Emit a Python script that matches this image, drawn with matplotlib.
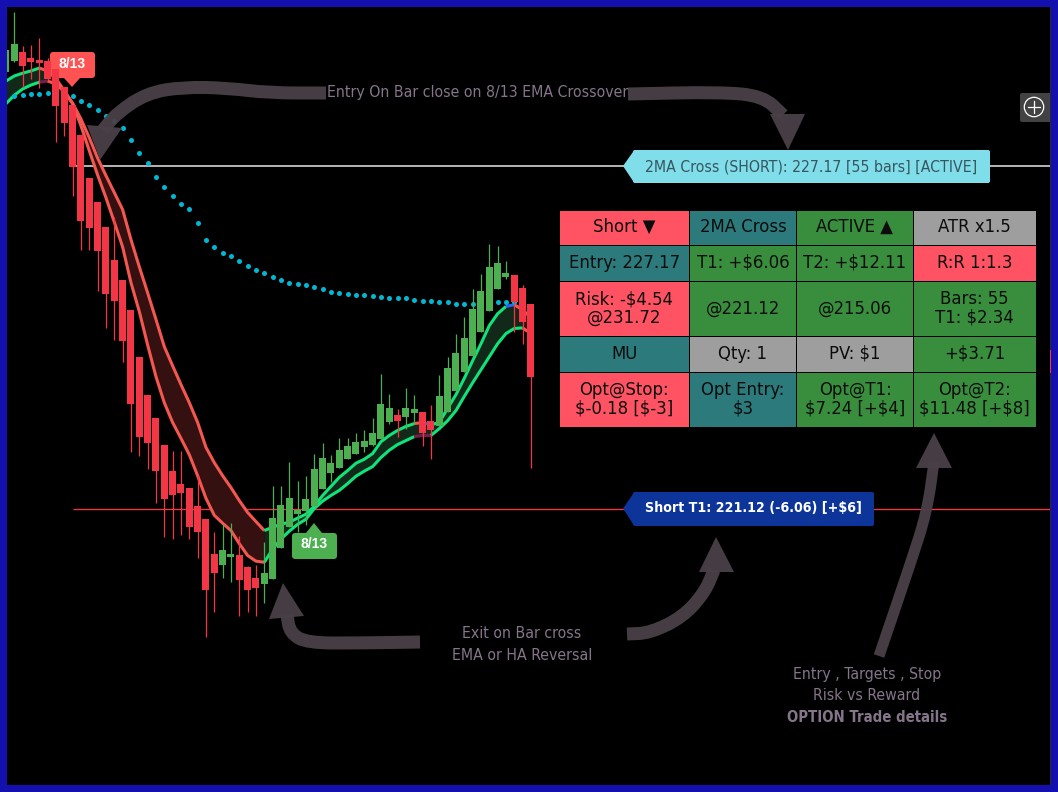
import numpy as np
import matplotlib
matplotlib.use("Agg")
import matplotlib.pyplot as plt
from matplotlib.patches import Rectangle, FancyBboxPatch, Polygon, PathPatch, Circle
from matplotlib.path import Path

W, H = 1058, 792
ENTRY = 227.17
T1 = 221.12

# ---- data (prices), bars -1 .. 62 ----
first_bar = -1
opens = [228.83, 229.02, 229.18, 229.08, 229.04, 229.02, 228.88, 228.57, 228.25, 227.72, 226.96, 226.54, 226.10,
         225.51, 225.16, 224.63, 223.80, 223.12, 222.71, 222.25, 221.78, 221.56, 221.49, 221.16, 220.93, 220.31,
         220.13, 220.26, 220.29, 220.08, 219.89, 219.78, 219.87, 220.42, 220.79, 221.03, 221.07, 221.16, 221.47,
         221.74, 221.83, 221.99, 222.09, 222.20, 222.25, 222.34, 222.64, 222.78, 222.73, 222.80, 222.83, 222.66,
         222.57, 222.83, 223.20, 223.54, 223.82, 224.23, 224.60, 224.99, 225.21, 225.25, 225.02, 224.74]
highs = [229.22, 229.89, 229.29, 229.31, 229.43, 229.08, 228.88, 228.57, 228.25, 227.72, 226.96, 226.54, 226.10,
         226.27, 225.16, 224.63, 223.80, 223.12, 222.71, 222.25, 222.13, 222.13, 221.49, 221.72, 220.93, 220.70,
         220.84, 220.86, 220.63, 220.10, 220.13, 220.52, 221.51, 221.51, 221.95, 221.60, 221.69, 222.09, 222.27,
         222.07, 222.37, 222.36, 222.46, 222.50, 222.71, 223.50, 223.15, 222.87, 223.24, 223.12, 222.83, 222.94,
         223.47, 223.80, 224.21, 224.51, 225.00, 225.27, 225.80, 225.76, 225.50, 225.25, 225.07, 224.74]
lows = [228.83, 229.01, 228.57, 228.71, 228.55, 228.69, 227.60, 227.70, 226.64, 225.69, 225.69, 224.97, 224.31,
        224.10, 223.70, 222.11, 222.04, 221.81, 221.21, 220.61, 220.58, 220.65, 220.59, 220.24, 218.85, 219.29,
        219.89, 219.83, 219.22, 219.29, 219.22, 219.45, 219.87, 220.42, 220.79, 220.70, 220.82, 221.16, 221.47,
        221.58, 221.83, 221.99, 222.09, 222.11, 222.22, 222.34, 222.62, 222.39, 222.53, 222.62, 222.22, 221.99,
        222.57, 222.83, 223.20, 223.54, 223.82, 224.23, 224.60, 224.99, 225.18, 224.24, 224.03, 221.83]
closes = [229.22, 229.32, 228.94, 229.01, 228.99, 228.71, 228.23, 227.93, 227.15, 226.20, 226.08, 225.66, 224.91,
          224.79, 224.07, 222.97, 222.39, 222.27, 221.78, 221.28, 221.35, 221.39, 220.80, 220.70, 219.68, 219.98,
          220.38, 220.31, 219.85, 219.68, 219.71, 219.98, 220.96, 221.19, 221.30, 221.10, 221.28, 221.81, 222.02,
          221.93, 222.16, 222.22, 222.30, 222.32, 222.45, 222.96, 222.90, 222.67, 222.89, 222.87, 222.45, 222.50,
          223.10, 223.61, 223.87, 224.14, 224.65, 224.97, 225.39, 225.46, 225.28, 224.77, 224.42, 223.45]
ema_upper = [228.67, 228.76, 228.81, 228.85, 228.90, 228.85, 228.71, 228.50, 228.28, 228.00, 227.67, 227.31, 227.00,
             226.70, 226.40, 225.87, 225.39, 224.93, 224.46, 223.98, 223.64, 223.31, 222.99, 222.64, 222.20, 221.93,
             221.70, 221.49, 221.26, 221.05, 220.89, 220.73, 220.79, 220.84, 220.88, 220.95, 221.02, 221.16, 221.35,
             221.51, 221.67, 221.79, 221.92, 221.99, 222.09, 222.30, 222.41, 222.50, 222.57, 222.62, 222.64, 222.60,
             222.64, 222.89, 223.13, 223.42, 223.73, 224.03, 224.35, 224.56, 224.69, 224.72, 224.63, 224.49]
ema_lower = [228.27, 228.42, 228.53, 228.60, 228.65, 228.67, 228.62, 228.48, 228.27, 227.88, 227.44, 227.01, 226.61,
             226.18, 225.74, 225.11, 224.60, 224.01, 223.45, 222.99, 222.64, 222.36, 222.07, 221.70, 221.30, 221.00,
             220.86, 220.73, 220.50, 220.29, 220.19, 220.17, 220.40, 220.58, 220.72, 220.84, 220.93, 221.12, 221.25,
             221.35, 221.44, 221.56, 221.69, 221.78, 221.86, 222.02, 222.15, 222.25, 222.32, 222.39, 222.41, 222.41,
             222.53, 222.67, 222.85, 223.10, 223.34, 223.57, 223.80, 224.03, 224.21, 224.30, 224.31, 224.21]
# colour runs of the two EMA lines and of the band between them (first bar, last bar, state)
upper_runs = [(-1, 3, "up"), (3, 30, "down"), (30, 48, "up"), (48, 49, "down"), (49, 50, "flip"), (50, 59, "up"),
              (59, 60, "flip"), (60, 62, "down")]
lower_runs = [(-1, 3, "up"), (3, 4, "dim"), (4, 30, "down"), (30, 48, "up"), (48, 50, "dim"), (50, 61, "up"),
              (61, 62, "down")]
band_runs = [(-1, 4, "up"), (4, 30, "down"), (30, 61, "up"), (61, 62, "down")]
slow_ma_first_bar = 0
slow_ma = [228.41, 228.42, 228.44, 228.44, 228.46, 228.46, 228.44, 228.41, 228.32, 228.25, 228.16, 228.05, 227.97,
           227.84, 227.63, 227.40, 227.23, 226.98, 226.80, 226.64, 226.50, 226.41, 226.17, 225.87, 225.74, 225.64,
           225.58, 225.50, 225.41, 225.34, 225.28, 225.21, 225.16, 225.11, 225.09, 225.06, 225.04, 225.00, 224.95,
           224.93, 224.91, 224.90, 224.90, 224.88, 224.86, 224.84, 224.83, 224.83, 224.81, 224.79, 224.79, 224.76,
           224.76, 224.74, 224.74, 224.74, 224.74, 224.74, 224.76, 224.76, 224.76]

table_rows = [
    ["Short ▼", "2MA Cross", "ACTIVE ▲", "ATR x1.5"],
    ["Entry: 227.17", "T1: +$6.06", "T2: +$12.11", "R:R 1:1.3"],
    ["Risk: -$4.54\n@231.72", "@221.12", "@215.06", "Bars: 55\nT1: $2.34"],
    ["MU", "Qty: 1", "PV: $1", "+$3.71"],
    ["Opt@Stop:\n$-0.18 [$-3]", "Opt Entry:\n$3", "Opt@T1:\n$7.24 [+$4]", "Opt@T2:\n$11.48 [+$8]"],
]
RED_C, TEAL_C, GREEN_C, GREY_C = "#ff5364", "#2c7a7b", "#388e3c", "#9e9e9e"
table_colors = [
    [RED_C, TEAL_C, GREEN_C, GREY_C],
    [TEAL_C, GREEN_C, GREEN_C, RED_C],
    [RED_C, GREEN_C, GREEN_C, GREEN_C],
    [TEAL_C, GREY_C, GREY_C, GREEN_C],
    [RED_C, TEAL_C, GREEN_C, GREEN_C],
]
col_edges = [559, 689.5, 796.5, 913.5, 1036]
row_edges = [210, 245.5, 281.5, 336, 372.5, 427]

plt.rcParams["font.family"] = ["DejaVu Sans"]
plt.rcParams["font.stretch"] = "condensed"
BG = "#000000"
ARROW = "#4a4048"
MUTED = "#85758a"
UP, DOWN = "#4caf50", "#f23645"
BORDER = "#1410b0"
LINE_COLORS = {"up": "#0fe37a", "down": "#f4574f", "flip": "#2962ff", "dim": "#7a1b4f"}
BAND_COLORS = {"up": "#12291a", "down": "#351011"}

fig = plt.figure(figsize=(W / 100, H / 100), dpi=100, facecolor=BG)


def pixel_axes(z):
    a = fig.add_axes([0, 0, 1, 1], zorder=z)
    a.set_xlim(0, W)
    a.set_ylim(H, 0)
    a.axis("off")
    return a


under = pixel_axes(0)
ov = pixel_axes(2)

# price axes: bar index horizontally, price vertically
ax = fig.add_axes([0, 0, 1, 1], zorder=1)
ax.patch.set_alpha(0)
ax.axis("off")
BAR_PX, BAR0_PX = 8.333, 14.3
ENTRY_PX, T1_PX = 166.0, 508.5
PX_PER_USD = (T1_PX - ENTRY_PX) / (ENTRY - T1)
ax.set_xlim(-BAR0_PX / BAR_PX, (W - BAR0_PX) / BAR_PX)
ax.set_ylim(ENTRY - (H - ENTRY_PX) / PX_PER_USD, ENTRY + ENTRY_PX / PX_PER_USD)

bars = np.arange(first_bar, first_bar + len(opens))
o, h, l, c = map(np.array, (opens, highs, lows, closes))
eu, el = np.array(ema_upper), np.array(ema_lower)

ax.hlines(ENTRY, 7, 125, color="#b0b0b0", lw=1.44, zorder=1)
ax.hlines(T1, 7, 125, color="#f23645", lw=0.95, zorder=1)

for start, end, kind in band_runs:
    m = (bars >= start) & (bars <= end)
    ax.fill_between(bars[m], el[m], eu[m], color=BAND_COLORS[kind], lw=0, zorder=2)
for series, runs in ((eu, upper_runs), (el, lower_runs)):
    for start, end, kind in runs:
        m = (bars >= start) & (bars <= end)
        ax.plot(bars[m], series[m], color=LINE_COLORS[kind], lw=2.2, zorder=3, solid_capstyle="butt")

ma_x = np.arange(slow_ma_first_bar, slow_ma_first_bar + len(slow_ma))
ax.scatter(ma_x, slow_ma, s=13, color="#00b8d4", lw=0, zorder=4)

colors = [UP if cl >= op else DOWN for op, cl in zip(o, c)]
ax.vlines(bars, l, h, colors=colors, lw=0.9, zorder=5, snap=True)
ax.bar(bars, np.abs(c - o), bottom=np.minimum(o, c), width=0.84, color=colors, lw=0, zorder=6)


# ---- labels ----
def rbox(a, x0, y0, x1, y1, color, r=3, z=3):
    a.add_patch(FancyBboxPatch((x0 + r, y0 + r), x1 - x0 - 2 * r, y1 - y0 - 2 * r,
                               boxstyle=f"round,pad={r},rounding_size={r}", fc=color, ec="none", zorder=z))


def txt(a, x, y, s, **kw):
    return a.text(x, y, s, parse_math=False, ha="center", va="center", **kw)


rbox(under, 50, 52, 95, 78, "#ff5252")
under.add_patch(Polygon([[64, 78], [80, 78], [72, 87]], fc="#ff5252", ec="none", zorder=3))
txt(under, 72.5, 64, "8/13", color="white", fontsize=10, fontweight="bold", family="Liberation Sans",
    stretch="normal", zorder=4)

rbox(ov, 292, 533, 337, 559, UP)
ov.add_patch(Polygon([[306, 533], [322, 533], [314, 523]], fc=UP, ec="none", zorder=3))
txt(ov, 314.5, 543.5, "8/13", color="white", fontsize=10, fontweight="bold", family="Liberation Sans",
    stretch="normal", zorder=4)

rbox(ov, 633, 150, 990, 183, "#80deea", r=2)
ov.add_patch(Polygon([[634, 150.5], [634, 182.5], [623, 166]], fc="#80deea", ec="none", zorder=3))
txt(ov, 811, 166.5, "2MA Cross (SHORT): 227.17 [55 bars] [ACTIVE]", color="#37565f", fontsize=11.3, zorder=4)

rbox(ov, 633, 492, 874, 526, "#0d3499", r=2)
ov.add_patch(Polygon([[634, 492.5], [634, 525.5], [623, 508.5]], fc="#0d3499", ec="none", zorder=3))
txt(ov, 753, 508, "Short T1: 221.12 (-6.06) [+$6]", color="white", fontsize=10.15, fontweight="bold", zorder=4)


# ---- hand drawn arrows ----
def arrow(pts, head, lw_px=13):
    pts = np.array(pts, float)
    verts = [pts[0], (pts[0] + pts[1]) / 2]
    codes = [Path.MOVETO, Path.LINETO]
    for i in range(1, len(pts) - 1):
        verts += [pts[i], (pts[i] + pts[i + 1]) / 2]
        codes += [Path.CURVE3, Path.CURVE3]
    verts.append(pts[-1])
    codes.append(Path.LINETO)
    ov.add_patch(PathPatch(Path(verts, codes), fc="none", ec=ARROW, lw=lw_px * 0.72, capstyle="butt",
                           alpha=0.95, zorder=5))
    ov.add_patch(Polygon(head, fc=ARROW, ec="none", alpha=0.95, zorder=5))


arrow([(326, 93), (270, 93), (227, 88), (183, 87), (147, 93), (117, 113), (103, 130)],
      [(87, 125), (122, 128), (100, 160)])
arrow([(628, 94), (720, 92), (763, 96), (783, 115)], [(770, 114), (805, 114), (788, 150)])
arrow([(420, 642), (360, 643), (307, 643), (290, 633), (287, 615)], [(283, 583), (269, 619), (304, 616)])
arrow([(627, 634), (650, 633), (683, 617), (705, 592), (714, 570)], [(716, 537), (699, 572), (734, 572)])
arrow([(879, 656), (910, 565), (927, 512), (934, 462)], [(934, 433), (916, 468), (952, 468)], lw_px=11)

note_kw = dict(color=MUTED, fontsize=11.3, zorder=6)
txt(ov, 478, 92, "Entry On Bar close on 8/13 EMA Crossover", **note_kw)
txt(ov, 522, 634, "Exit on Bar cross", **note_kw)
txt(ov, 522, 656, "EMA or HA Reversal", **note_kw)
txt(ov, 867, 674, "Entry , Targets , Stop", **note_kw)
txt(ov, 867, 696, "Risk vs Reward", **note_kw)
txt(ov, 867, 718, "OPTION Trade details", fontweight="bold", color=MUTED, fontsize=10.7, zorder=6)

# ---- table ----
for r, row in enumerate(table_rows):
    for k, cell in enumerate(row):
        x0, x1 = col_edges[k], col_edges[k + 1]
        y0, y1 = row_edges[r], row_edges[r + 1]
        ov.add_patch(Rectangle((x0 + 0.5, y0 + 0.5), x1 - x0 - 1, y1 - y0 - 1, fc=table_colors[r][k], ec="none", zorder=3))
        txt(ov, (x0 + x1) / 2, (y0 + y1) / 2 - 0.5, cell, color="#0c0c0c", fontsize=13.2,
            linespacing=1.0, zorder=4)

# ---- zoom button and frame ----
ov.add_patch(FancyBboxPatch((1022, 95), 28, 25, boxstyle="round,pad=2,rounding_size=2", fc="#424242", ec="none", zorder=3))
ov.add_patch(Circle((1034, 107), 9.7, fc="none", ec="white", lw=0.9, zorder=4))
ov.plot([1028, 1040], [107, 107], color="white", lw=0.9, zorder=4)
ov.plot([1034, 1034], [101, 113], color="white", lw=0.9, zorder=4)
ov.add_patch(Rectangle((1049.5, 7), 1.2, H - 14, fc="#2a2a2a", ec="none", zorder=7))
ov.add_patch(Rectangle((1049.5, 350), 1.5, 23, fc="#f23645", ec="none", zorder=7))
for xy, w_, h_ in [((0, 0), W, 7), ((0, 785), W, 7), ((0, 0), 7, H), ((1051, 0), 7, H)]:
    ov.add_patch(Rectangle(xy, w_, h_, fc=BORDER, ec="none", zorder=8))

fig.savefig("out.png", dpi=100, facecolor=BG)
